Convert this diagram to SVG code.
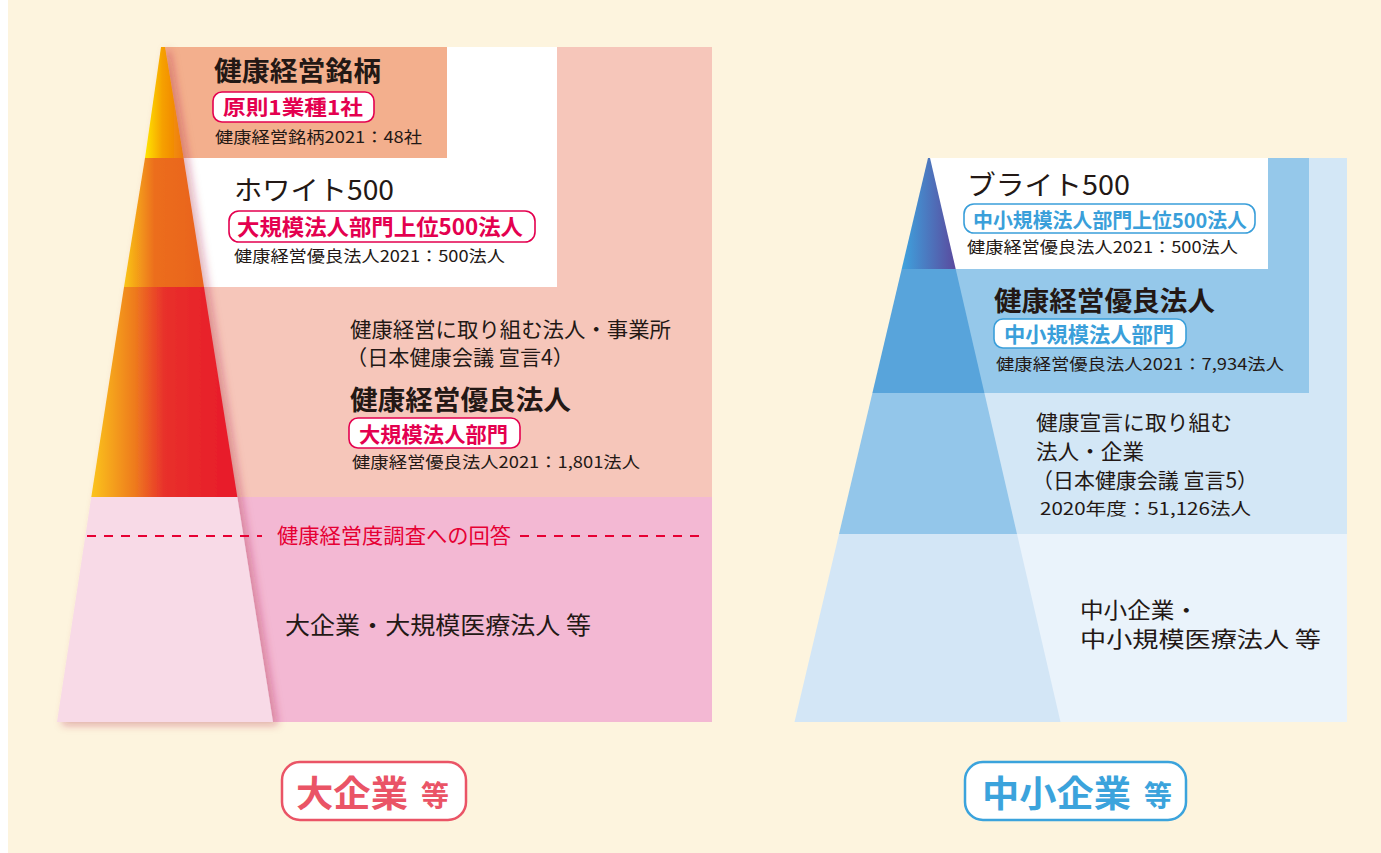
<svg xmlns="http://www.w3.org/2000/svg" width="1381" height="853" viewBox="0 0 1381 853">
<defs>
<style>
text{font-family:"Noto Sans CJK JP","Noto Sans CJK SC",sans-serif;fill:#231815}
.b{font-weight:700}
.red{fill:#E4004F}
.blu{fill:#3A9FDA}
.pl{fill:#fff;stroke:#E4004F;stroke-width:1.6}
.pb{fill:#fff;stroke:#3A9FDA;stroke-width:1.6}
.dash{stroke:#E60033;stroke-width:2;stroke-dasharray:9 8;fill:none}
</style>
<linearGradient id="g1" x1="0" y1="0" x2="1" y2="0">
<stop offset="0" stop-color="#FFE500"/><stop offset="0.45" stop-color="#F6A000"/><stop offset="1" stop-color="#EE7A0C"/>
</linearGradient>
<linearGradient id="g2" x1="0" y1="0" x2="1" y2="0">
<stop offset="0" stop-color="#FAC515"/><stop offset="0.38" stop-color="#EC6E1E"/><stop offset="1" stop-color="#E9621F"/>
</linearGradient>
<linearGradient id="g3" x1="0" y1="0" x2="1" y2="0">
<stop offset="0" stop-color="#FBC41A"/><stop offset="0.3" stop-color="#EE7A1E"/><stop offset="0.5" stop-color="#E8302C"/><stop offset="1" stop-color="#E8192C"/>
</linearGradient>
<linearGradient id="gb" x1="0" y1="0" x2="1" y2="0">
<stop offset="0" stop-color="#3EA3DE"/><stop offset="1" stop-color="#5A4A9E"/>
</linearGradient>
<filter id="sh" x="-20%" y="-5%" width="150%" height="115%">
<feDropShadow dx="5" dy="3" stdDeviation="4" flood-color="#A8203A" flood-opacity="0.35"/>
</filter>
</defs>
<rect x="0" y="0" width="1381" height="853" fill="#FDF4DE"/>
<rect x="0" y="0" width="8" height="853" fill="#FFFFFF"/>

<g id="left-panel">
<rect x="163" y="47" width="549" height="450" fill="#F6C6BA"/>
<rect x="163" y="47" width="284" height="111" fill="#F3AF8D"/>
<rect x="447" y="47" width="110" height="240" fill="#FFFFFF"/>
<rect x="163" y="158" width="394" height="129" fill="#FFFFFF"/>
<rect x="163" y="497" width="549" height="225" fill="#F3B8D3"/>
</g>

<g id="left-pyramid" filter="url(#sh)">
<polygon points="161,47 165,47 183.6,158 145,158" fill="url(#g1)"/>
<polygon points="145,158 183.6,158 204,287 124,287" fill="url(#g2)"/>
<polygon points="124,287 204,287 237.3,497 91.3,497" fill="url(#g3)"/>
<polygon points="91.3,497 237.3,497 273,722 57,722" fill="#F8DAE7"/>
</g>

<g id="node-meigara">
<text class="b" x="214" y="81" font-size="27" textLength="167" lengthAdjust="spacingAndGlyphs">健康経営銘柄</text>
<rect class="pl" x="213" y="92" width="161" height="30" rx="9"/>
<text class="b red" x="223" y="115" font-size="20" textLength="140" lengthAdjust="spacingAndGlyphs">原則1業種1社</text>
<text x="215" y="143" font-size="16" textLength="207" lengthAdjust="spacingAndGlyphs">健康経営銘柄2021：48社</text>
</g>

<g id="node-white500">
<text x="234" y="200" font-size="27" textLength="160" lengthAdjust="spacingAndGlyphs">ホワイト500</text>
<rect class="pl" x="229" y="211" width="306" height="31" rx="10"/>
<text class="b red" x="237" y="235" font-size="22" textLength="286" lengthAdjust="spacingAndGlyphs">大規模法人部門上位500法人</text>
<text x="234" y="262" font-size="16" textLength="271" lengthAdjust="spacingAndGlyphs">健康経営優良法人2021：500法人</text>
</g>

<g id="node-large-yuryo">
<text x="350" y="337" font-size="21" textLength="321" lengthAdjust="spacingAndGlyphs">健康経営に取り組む法人・事業所</text>
<text x="346" y="365" font-size="21" textLength="228" lengthAdjust="spacingAndGlyphs">（日本健康会議 宣言4）</text>
<text class="b" x="350" y="410" font-size="27" textLength="221" lengthAdjust="spacingAndGlyphs">健康経営優良法人</text>
<rect class="pl" x="349" y="418" width="171" height="30" rx="9"/>
<text class="b red" x="359" y="442" font-size="21" textLength="149" lengthAdjust="spacingAndGlyphs">大規模法人部門</text>
<text x="352" y="468" font-size="16" textLength="288" lengthAdjust="spacingAndGlyphs">健康経営優良法人2021：1,801法人</text>
</g>

<g id="connectors">
<line class="dash" x1="87" y1="536" x2="262" y2="536"/>
<line class="dash" x1="520" y1="536" x2="706" y2="536"/>
</g>
<g id="label-survey">
<text class="red" x="277" y="543" font-size="21" textLength="234" lengthAdjust="spacingAndGlyphs" style="fill:#E60033">健康経営度調査への回答</text>
</g>

<g id="node-large-base">
<text x="285" y="634" font-size="24" textLength="306" lengthAdjust="spacingAndGlyphs">大企業・大規模医療法人 等</text>
</g>

<g id="right-panel">
<rect x="930" y="158" width="417" height="376" fill="#D3E7F6"/>
<rect x="930" y="534" width="417" height="188" fill="#EAF3FB"/>
<rect x="930" y="158" width="379" height="235" fill="#95C8EA"/>
<rect x="930" y="158" width="338" height="111" fill="#FFFFFF"/>
</g>

<g id="right-pyramid">
<polygon points="928,158 930,158 955.7,269 901.7,269" fill="url(#gb)"/>
<polygon points="901.7,269 955.7,269 984.4,393 872.4,393" fill="#58A4DB"/>
<polygon points="872.4,393 984.4,393 1017,534 839,534" fill="#93C6EA"/>
<polygon points="839,534 1017,534 1060.5,722 794.5,722" fill="#D3E6F6"/>
</g>

<g id="node-bright500">
<text x="967" y="195" font-size="27" textLength="163" lengthAdjust="spacingAndGlyphs">ブライト500</text>
<rect class="pb" x="964" y="204" width="291" height="29" rx="10"/>
<text class="b blu" x="973" y="228" font-size="20" textLength="274" lengthAdjust="spacingAndGlyphs">中小規模法人部門上位500法人</text>
<text x="967" y="253" font-size="16" textLength="271" lengthAdjust="spacingAndGlyphs">健康経営優良法人2021：500法人</text>
</g>

<g id="node-small-yuryo">
<text class="b" x="994" y="311" font-size="27" textLength="221" lengthAdjust="spacingAndGlyphs">健康経営優良法人</text>
<rect class="pb" x="994" y="319" width="192" height="29" rx="9"/>
<text class="b blu" x="1004" y="342" font-size="21" textLength="170" lengthAdjust="spacingAndGlyphs">中小規模法人部門</text>
<text x="996" y="370" font-size="16" textLength="288" lengthAdjust="spacingAndGlyphs">健康経営優良法人2021：7,934法人</text>
</g>

<g id="node-small-sengen">
<text x="1036" y="430" font-size="21" textLength="196" lengthAdjust="spacingAndGlyphs">健康宣言に取り組む</text>
<text x="1036" y="459" font-size="21" textLength="108" lengthAdjust="spacingAndGlyphs">法人・企業</text>
<text x="1032" y="488" font-size="21" textLength="226" lengthAdjust="spacingAndGlyphs">（日本健康会議 宣言5）</text>
<text x="1040" y="515" font-size="17" textLength="211" lengthAdjust="spacingAndGlyphs">2020年度：51,126法人</text>
</g>

<g id="node-small-base">
<text x="1080" y="618" font-size="22" textLength="118" lengthAdjust="spacingAndGlyphs">中小企業・</text>
<text x="1080" y="647" font-size="22" textLength="241" lengthAdjust="spacingAndGlyphs">中小規模医療法人 等</text>
</g>

<g id="label-large">
<rect x="282" y="762" width="184" height="58" rx="18" fill="#FFFFFF" stroke="#EA5466" stroke-width="2.5"/>
<text class="b" x="296" y="807" font-size="36" style="fill:#EA5466" textLength="112" lengthAdjust="spacingAndGlyphs">大企業</text>
<text class="b" x="421" y="806" font-size="28" style="fill:#EA5466">等</text>
</g>

<g id="label-small">
<rect x="965" y="762" width="221" height="58" rx="18" fill="#FFFFFF" stroke="#3BA3DC" stroke-width="2.5"/>
<text class="b" x="982" y="807" font-size="36" style="fill:#3BA3DC" textLength="149" lengthAdjust="spacingAndGlyphs">中小企業</text>
<text class="b" x="1144" y="806" font-size="28" style="fill:#3BA3DC">等</text>
</g>
</svg>
